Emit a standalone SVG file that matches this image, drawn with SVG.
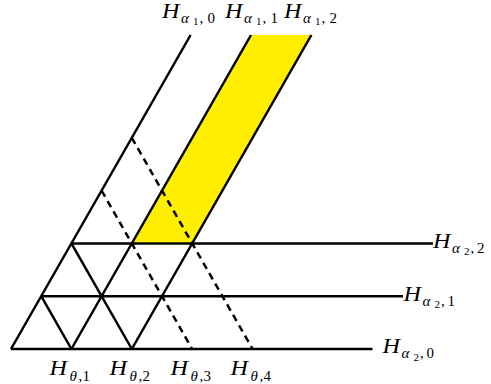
<svg xmlns="http://www.w3.org/2000/svg" width="491" height="384" viewBox="0 0 491 384">
<style>
.ln{stroke:#000;stroke-width:2.5;fill:none}
.dash{stroke:#000;stroke-width:2.5;fill:none;stroke-dasharray:7 5}
text{font-family:"Liberation Serif","DejaVu Serif",serif;fill:#000}
.H{font-size:21px;font-style:italic}
.g{font-size:15px;font-style:italic}
.s{font-size:15px}
.ss{font-size:11px}
</style>
<rect width="491" height="384" fill="#fff"/>
<g id="band">
<polygon points="131.8,243.4 192.2,243.4 311.4,35 251,35" fill="#ffee00"/>
</g>
<g id="connectors">
<line class="ln" x1="11" y1="349" x2="372.5" y2="349"/>
<line class="ln" x1="41.2" y1="296.2" x2="403" y2="296.2"/>
<line class="ln" x1="71.4" y1="243.4" x2="433" y2="243.4"/>
<line class="ln" x1="11" y1="349" x2="190.6" y2="35"/>
<line class="ln" x1="71.4" y1="349" x2="251" y2="35"/>
<line class="ln" x1="131.8" y1="349" x2="311.4" y2="35"/>
<line class="ln" x1="41.2" y1="296.2" x2="71.4" y2="349"/>
<line class="ln" x1="71.4" y1="243.4" x2="131.8" y2="349"/>
<line class="dash" x1="101.6" y1="190.6" x2="192.2" y2="349"/>
<line class="dash" x1="131.8" y1="137.8" x2="252.6" y2="349"/>
</g>
<g id="label-a1-0"><text class="H" x="162" y="17.5" textLength="17.5" lengthAdjust="spacingAndGlyphs">H</text><text class="g" x="181" y="22.5">α</text><text class="ss" x="193" y="25">1</text><text class="s" x="199.5" y="22.5">,</text><text class="s" x="207.5" y="22.5">0</text></g>
<g id="label-a1-1"><text class="H" x="225" y="17.5" textLength="17.5" lengthAdjust="spacingAndGlyphs">H</text><text class="g" x="244" y="22.5">α</text><text class="ss" x="256" y="25">1</text><text class="s" x="262.5" y="22.5">,</text><text class="s" x="270.5" y="22.5">1</text></g>
<g id="label-a1-2"><text class="H" x="284" y="17.5" textLength="17.5" lengthAdjust="spacingAndGlyphs">H</text><text class="g" x="303" y="22.5">α</text><text class="ss" x="315" y="25">1</text><text class="s" x="321.5" y="22.5">,</text><text class="s" x="329.5" y="22.5">2</text></g>
<g id="label-a2-2"><text class="H" x="433" y="247.5" textLength="17.5" lengthAdjust="spacingAndGlyphs">H</text><text class="g" x="452" y="252.5">α</text><text class="ss" x="464" y="255">2</text><text class="s" x="470.5" y="252.5">,</text><text class="s" x="477" y="252.5">2</text></g>
<g id="label-a2-1"><text class="H" x="403.5" y="300.5" textLength="17.5" lengthAdjust="spacingAndGlyphs">H</text><text class="g" x="422.5" y="305.5">α</text><text class="ss" x="434.5" y="308">2</text><text class="s" x="441" y="305.5">,</text><text class="s" x="447.5" y="305.5">1</text></g>
<g id="label-a2-0"><text class="H" x="382.5" y="353" textLength="17.5" lengthAdjust="spacingAndGlyphs">H</text><text class="g" x="401.5" y="358">α</text><text class="ss" x="413.5" y="360.5">2</text><text class="s" x="420" y="358">,</text><text class="s" x="426.5" y="358">0</text></g>
<g id="label-t1"><text class="H" x="49.5" y="375" textLength="17.5" lengthAdjust="spacingAndGlyphs">H</text><text class="g" x="69.5" y="380.5">θ</text><text class="s" x="78.5" y="380.5">,</text><text class="s" x="82.5" y="380.5">1</text></g>
<g id="label-t2"><text class="H" x="109.5" y="375" textLength="17.5" lengthAdjust="spacingAndGlyphs">H</text><text class="g" x="129.5" y="380.5">θ</text><text class="s" x="138.5" y="380.5">,</text><text class="s" x="142.5" y="380.5">2</text></g>
<g id="label-t3"><text class="H" x="170.5" y="375" textLength="17.5" lengthAdjust="spacingAndGlyphs">H</text><text class="g" x="190.5" y="380.5">θ</text><text class="s" x="199.5" y="380.5">,</text><text class="s" x="203.5" y="380.5">3</text></g>
<g id="label-t4"><text class="H" x="230.5" y="375" textLength="17.5" lengthAdjust="spacingAndGlyphs">H</text><text class="g" x="250.5" y="380.5">θ</text><text class="s" x="259.5" y="380.5">,</text><text class="s" x="263.5" y="380.5">4</text></g>
</svg>
